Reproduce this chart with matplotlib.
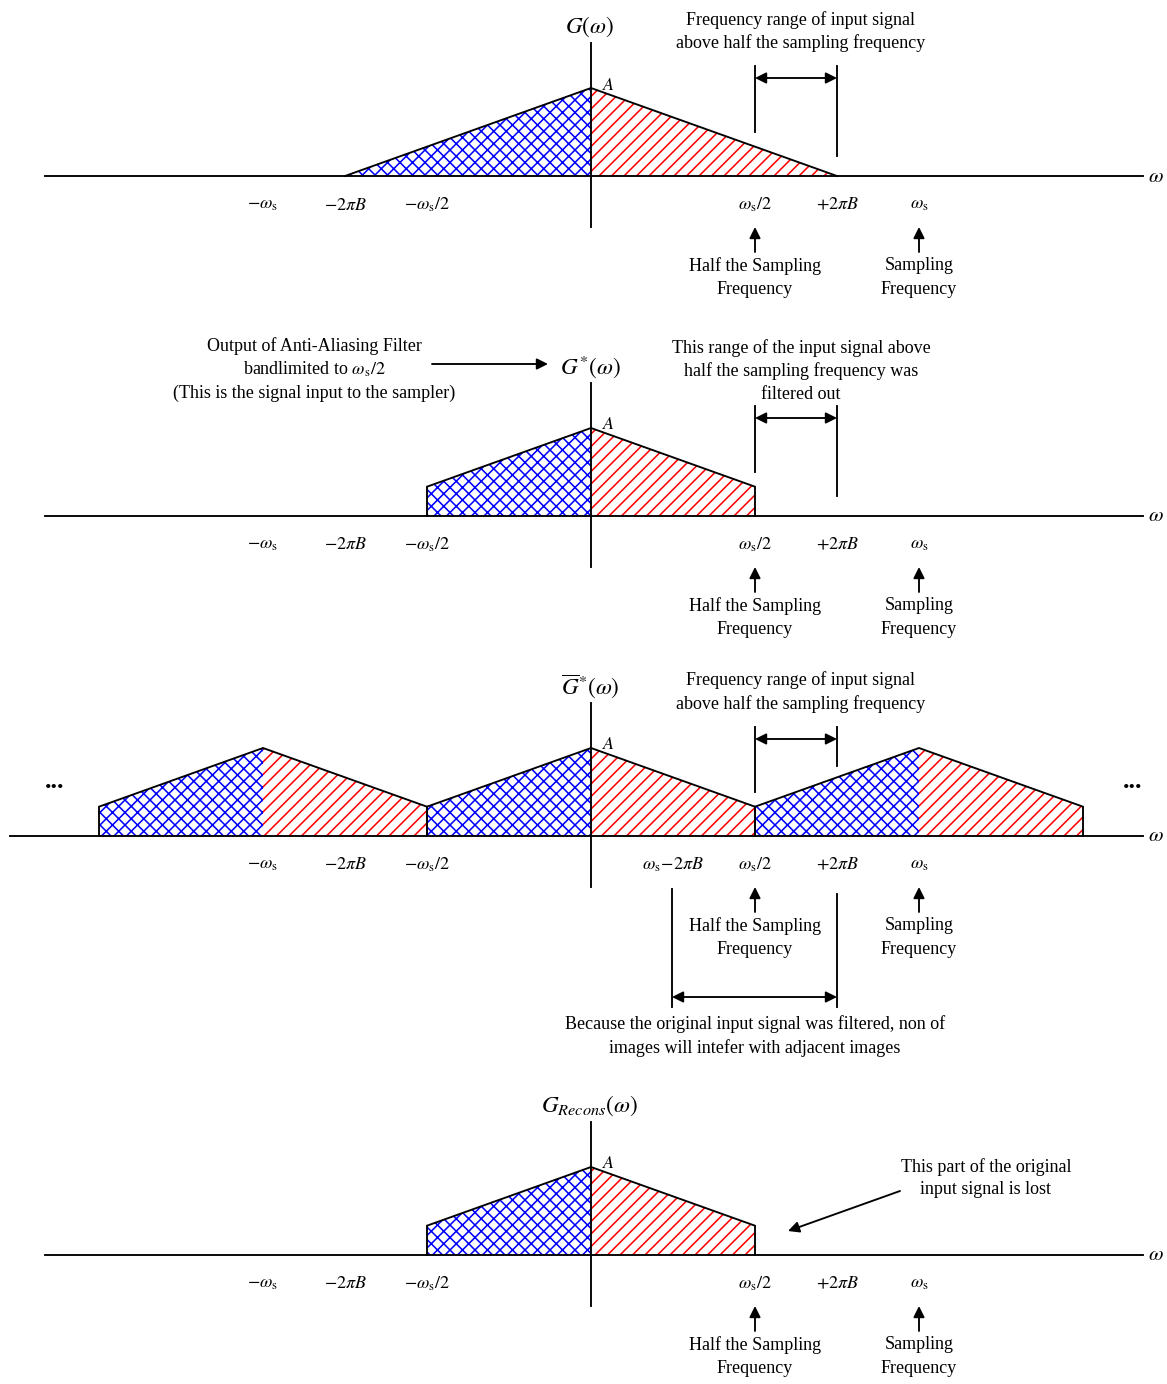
import numpy as np
import matplotlib.pyplot as plt

plt.rcParams['font.family'] = ['Liberation Serif', 'DejaVu Serif']
plt.rcParams['mathtext.fontset'] = 'stix'
plt.rcParams['hatch.linewidth'] = 1.5

# spectrum, frequencies in units of the sampling frequency ws, amplitude in units of A
full_w = [-0.75, 0.0, 0.75]
full_g = [0.0, 1.0, 0.0]
band_w = [-0.5, -0.5, 0.0, 0.5, 0.5]
band_g = [0.0, 0.333, 1.0, 0.333, 0.0]

tick_w = [-1.0, -0.75, -0.5, 0.5, 0.75, 1.0]
tick_lbl = [r'$-\omega_{\rm s}$', r'$-2\pi B$', r'$-\omega_{\rm s}/2$',
            r'$\omega_{\rm s}/2$', r'$+2\pi B$', r'$\omega_{\rm s}$']

titles = [r'$G(\omega)$', r'$G^{*}(\omega)$', r'$\overline{G}^{*}(\omega)$', r'$G_{Recons}(\omega)$']
baselines = [177, 517, 837, 1256]
spectra = [(full_w, full_g), (band_w, band_g), (band_w, band_g), (band_w, band_g)]
shifts = [[0], [0], [-1, 0, 1], [0]]

# pixel layout
X0 = 591
PX_WS = 328
PX_A = 88
FS = 17.3
LW = 1.8

def px(w):
    return X0 + PX_WS * np.asarray(w, dtype=float)

fig = plt.figure(figsize=(1167/75, 1385/75), dpi=75)
ax = fig.add_axes([0, 0, 1, 1])
ax.set_xlim(0, 1167)
ax.set_ylim(1385, 0)
ax.axis('off')

def dbl_arrow(x1, x2, y):
    ax.annotate('', xy=(x2, y), xytext=(x1, y),
                arrowprops=dict(arrowstyle='<|-|>', color='k', lw=LW, mutation_scale=22,
                                shrinkA=0, shrinkB=0))

def arrow(x1, y1, x2, y2):
    ax.annotate('', xy=(x2, y2), xytext=(x1, y1),
                arrowprops=dict(arrowstyle='-|>', color='k', lw=LW, mutation_scale=22,
                                shrinkA=0, shrinkB=0))

def lines(x, ys, txts):
    for y, t in zip(ys, txts):
        ax.text(x, y, t, ha='center', va='center', fontsize=FS)

for k in range(4):
    b = baselines[k]
    w, g = spectra[k]
    w = np.array(w); g = np.array(g)
    for s in shifts[k]:
        left = w <= 0
        right = w >= 0
        lx = np.append(w[left], 0.0) + s
        ly = np.append(g[left], 0.0)
        rx = np.insert(w[right], 0, 0.0) + s
        ry = np.insert(g[right], 0, 0.0)
        ax.fill(px(lx), b - PX_A * ly, facecolor='none', edgecolor='blue', hatch='xx', lw=0)
        ax.fill(px(rx), b - PX_A * ry, facecolor='none', edgecolor='red', hatch='//', lw=0)
        ax.plot(px(w + s), b - PX_A * g, color='k', lw=LW, solid_joinstyle='miter')

    # axes
    x_start = 10 if k == 2 else 45
    ax.plot([x_start, 1143], [b, b], color='k', lw=LW)
    ax.plot([X0, X0], [b - 133, b + 51], color='k', lw=LW)
    ax.text(1156, b, r'$\omega$', ha='center', va='center', fontsize=FS + 3)
    ax.text(X0 - 1, b - 150, titles[k], ha='center', va='center', fontsize=FS + 5)
    ax.text(X0 + 18, b - 92, r'$A$', ha='center', va='center', fontsize=FS)

    for tw, tl in zip(tick_w, tick_lbl):
        ax.text(px(tw), b + 28, tl, ha='center', va='center', fontsize=FS)
    if k == 2:
        ax.text(px(0.25), b + 28, r'$\omega_{\rm s}\!-\!2\pi B$', ha='center', va='center', fontsize=FS)

    for tw, txt in zip([0.5, 1.0], [['Half the Sampling', 'Frequency'], ['Sampling', 'Frequency']]):
        arrow(px(tw), b + 76, px(tw), b + 51)
        lines(px(tw), [b + 89, b + 113], txt)

# panel 1 bracket
ax.plot([755, 755], [67, 133], color='k', lw=LW)
ax.plot([837, 837], [67, 157], color='k', lw=LW)
dbl_arrow(755, 837, 79)
lines(801, [20, 43], ['Frequency range of input signal', 'above half the sampling frequency'])

# panel 2
ax.plot([755, 755], [407, 473], color='k', lw=LW)
ax.plot([837, 837], [407, 497], color='k', lw=LW)
dbl_arrow(755, 837, 419)
lines(801, [348, 371, 395], ['This range of the input signal above',
                             'half the sampling frequency was', 'filtered out'])
lines(314, [346, 369, 393], ['Output of Anti-Aliasing Filter',
                             r'bandlimited to $\omega_{\rm s}/2$',
                             '(This is the signal input to the sampler)'])
arrow(432, 365, 548, 365)

# panel 3
ax.plot([755, 755], [728, 793], color='k', lw=LW)
ax.plot([837, 837], [728, 767], color='k', lw=LW)
dbl_arrow(755, 837, 740)
lines(801, [680, 704], ['Frequency range of input signal', 'above half the sampling frequency'])
ax.text(55, 782, '...', ha='center', va='center', fontsize=FS + 8, fontweight='bold')
ax.text(1133, 782, '...', ha='center', va='center', fontsize=FS + 8, fontweight='bold')
ax.plot([672, 672], [890, 1008], color='k', lw=LW)
ax.plot([837, 837], [895, 1008], color='k', lw=LW)
dbl_arrow(672, 837, 998)
lines(755, [1024, 1048], ['Because the original input signal was filtered, non of',
                          'images will intefer with adjacent images'])

# panel 4
lines(986, [1167, 1190], ['This part of the original', 'input signal is lost'])
arrow(900, 1192, 788, 1232)

fig.savefig('out.png', dpi=75)
